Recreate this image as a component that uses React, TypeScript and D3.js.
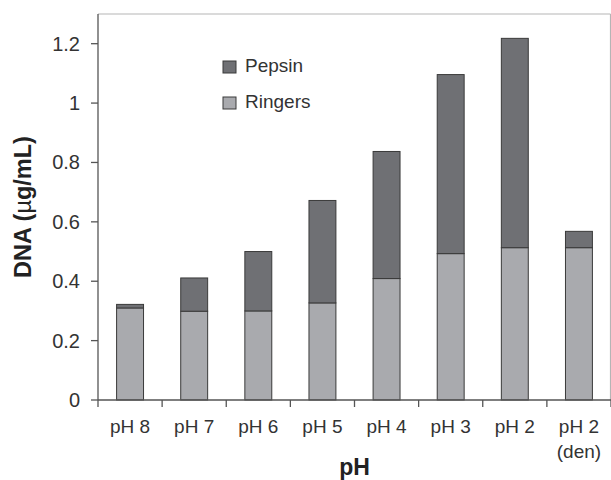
import React from "react";
import * as d3 from "d3";

const categories = ["pH 8", "pH 7", "pH 6", "pH 5", "pH 4", "pH 3", "pH 2", "pH 2|(den)"];
const ringers = [0.31, 0.299, 0.3, 0.327, 0.409, 0.493, 0.513, 0.513];
const pepsin = [0.012, 0.112, 0.2, 0.345, 0.428, 0.603, 0.705, 0.055];
const yTicks = [0, 0.2, 0.4, 0.6, 0.8, 1, 1.2];
const seriesNames = ["Pepsin", "Ringers"];

const W = 611, H = 480;
const M = { left: 98, right: 611, top: 14, bottom: 400 };
const font = "'Liberation Sans', Arial, sans-serif";
const cPepsin = "#6f7074";
const cRingers = "#a9aaae";
const cStroke = "#3a3a3a";
const cText = "#333";

export default function App() {
  const x = d3.scaleBand<string>().domain(categories).range([M.left, M.right]).paddingInner(0.58).paddingOuter(0.29);
  const y = d3.scaleLinear().domain([0, 1.3]).range([M.bottom, M.top]);
  const band = (M.right - M.left) / categories.length;
  const boundaries = d3.range(categories.length + 1).map((i) => M.left + i * band);

  return (
    <svg width={W} height={H} style={{ position: "absolute", left: 0, top: 0, background: "#fff" }} fontFamily={font}>
      {/* frame top/right */}
      <line x1={M.left} x2={M.right - 0.5} y1={M.top} y2={M.top} stroke="#b5b5b5" strokeWidth={1.2} />
      <line x1={M.right - 0.5} x2={M.right - 0.5} y1={M.top} y2={M.bottom} stroke="#b5b5b5" strokeWidth={1.2} />
      {/* bars */}
      {categories.map((c, i) => {
        const bx = x(c)!;
        const bw = x.bandwidth();
        const r = ringers[i];
        const p = pepsin[i];
        return (
          <g key={c}>
            <rect x={bx} y={y(r)} width={bw} height={y(0) - y(r)} fill={cRingers} stroke={cStroke} strokeWidth={1} />
            <rect x={bx} y={y(r + p)} width={bw} height={y(r) - y(r + p)} fill={cPepsin} stroke={cStroke} strokeWidth={1} />
          </g>
        );
      })}
      {/* axes */}
      <line x1={M.left} x2={M.left} y1={M.top} y2={M.bottom} stroke="#555" strokeWidth={1.3} />
      <line x1={M.left} x2={M.right} y1={M.bottom} y2={M.bottom} stroke="#555" strokeWidth={1.3} />
      {yTicks.map((t) => (
        <g key={t}>
          <line x1={M.left - 7} x2={M.left} y1={y(t)} y2={y(t)} stroke="#555" strokeWidth={1.3} />
          <text x={M.left - 18} y={y(t)} dy="0.35em" textAnchor="end" fontSize={20} fill={cText}>
            {d3.format("~g")(t)}
          </text>
        </g>
      ))}
      {boundaries.map((b, i) => (
        <line key={i} x1={b} x2={b} y1={M.bottom} y2={M.bottom + 7} stroke="#555" strokeWidth={1.3} />
      ))}
      {categories.map((c) => {
        const cx = x(c)! + x.bandwidth() / 2;
        const lines = c.split("|");
        return (
          <text key={c} x={cx} y={433} textAnchor="middle" fontSize={19} fill={cText}>
            {lines.map((l, j) => (
              <tspan key={j} x={cx} dy={j === 0 ? 0 : 25}>{l}</tspan>
            ))}
          </text>
        );
      })}
      {/* axis titles */}
      <text x={(M.left + M.right) / 2} y={475} textAnchor="middle" fontSize={23} fontWeight="bold" fill="#222">pH</text>
      <text transform={`translate(31,${(M.top + M.bottom) / 2}) rotate(-90)`} textAnchor="middle" fontSize={23.5} fontWeight="bold" fill="#222">
        DNA (<tspan fontWeight="normal">µ</tspan>g/mL)
      </text>
      {/* legend */}
      {seriesNames.map((s, i) => (
        <g key={s} transform={`translate(223,${61 + i * 36})`}>
          <rect x={0} y={0} width={13} height={12} fill={i === 0 ? cPepsin : cRingers} stroke={cStroke} strokeWidth={1} />
          <text x={22} y={11} fontSize={19} fill={cText}>{s}</text>
        </g>
      ))}
    </svg>
  );
}
